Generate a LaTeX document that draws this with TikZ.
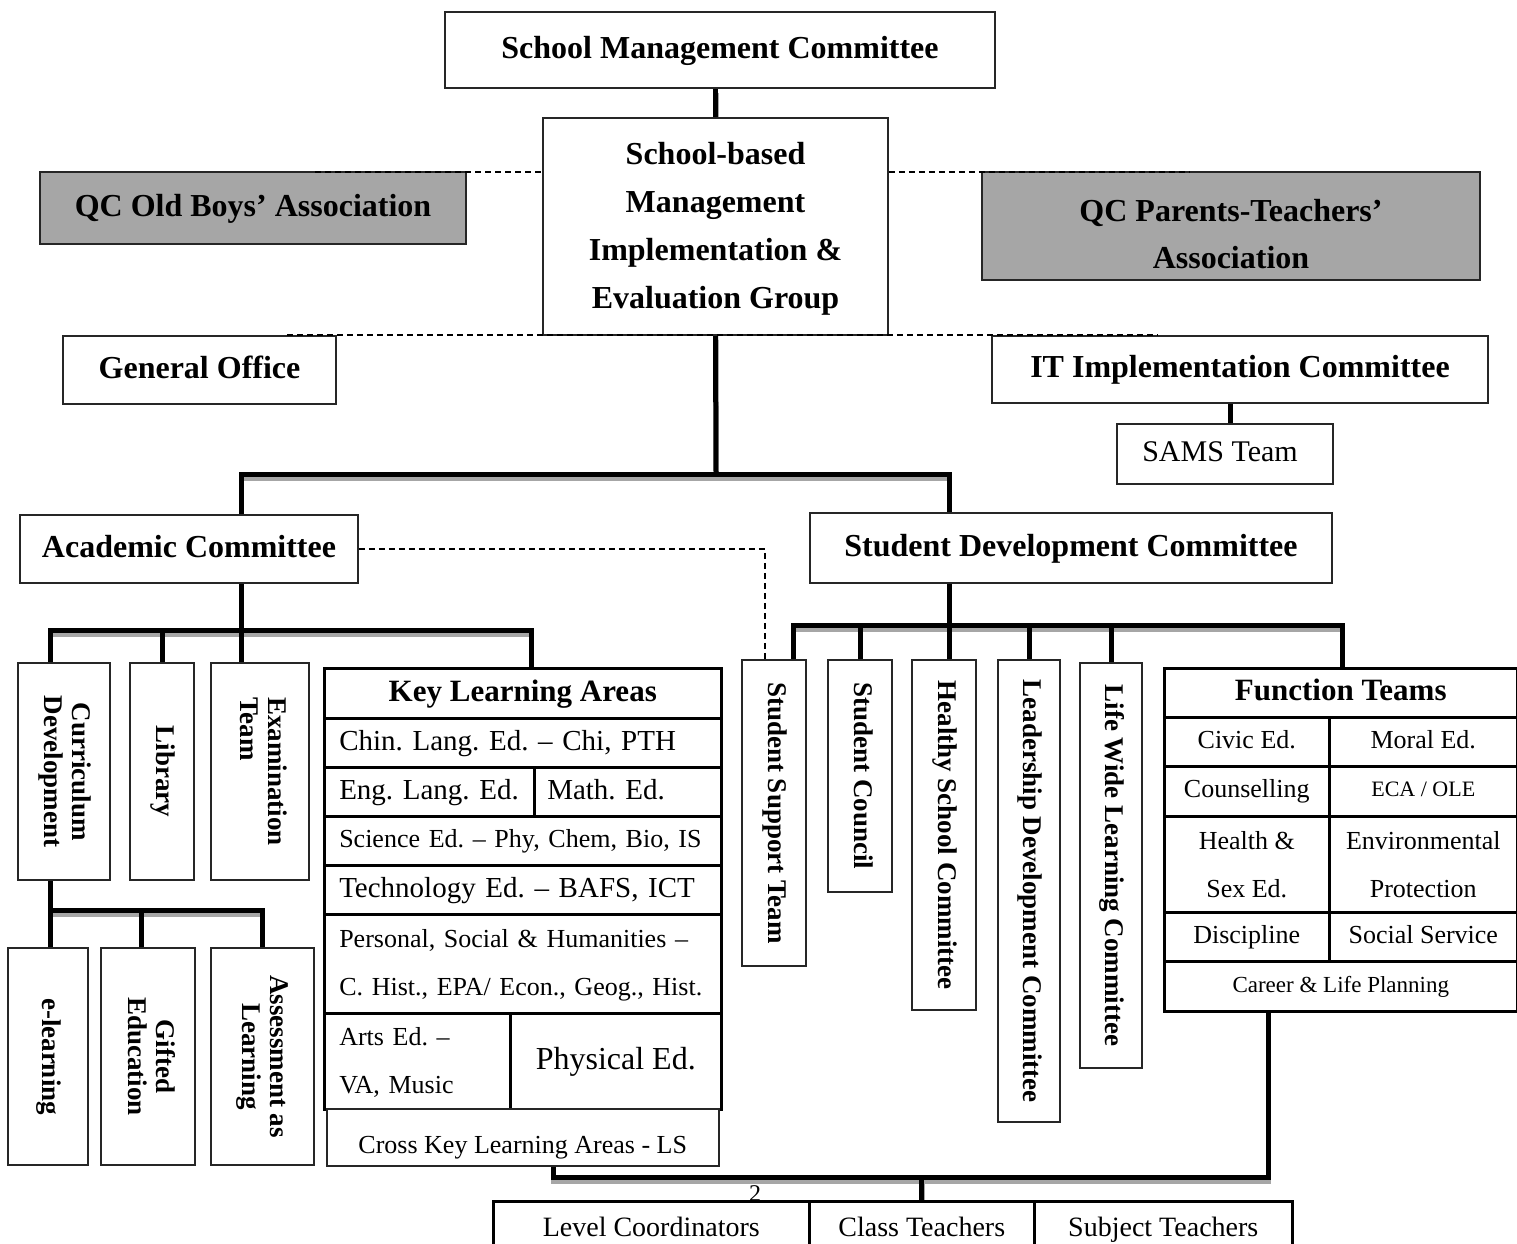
\documentclass[tikz,border=0pt]{standalone}
\usepackage{fontspec}
\setmainfont{Liberation Serif}
\usetikzlibrary{backgrounds}
\definecolor{qcgray}{RGB}{166,166,166}
\newcommand\qcReg[1]{\fontsize{#1bp}{48bp}\selectfont}
\newcommand\qcBold[1]{\fontsize{#1bp}{48bp}\selectfont\bfseries}
\newcommand\qcVert{\fontsize{27bp}{28bp}\selectfont\bfseries}
\newcommand\qcV[2]{\rotatebox{-90}{\begin{tabular}{@{}#1@{}}#2\end{tabular}}}
\begin{document}
\frenchspacing
\begin{tikzpicture}[x=1bp,y=-1bp,
  s32/.style={text height=22.4bp, text depth=6.4bp},
  s31/.style={text height=21.7bp, text depth=6.2bp},
  s30/.style={text height=21bp, text depth=6bp},
  s29/.style={text height=20.3bp, text depth=5.8bp},
  s28/.style={text height=19.6bp, text depth=5.6bp},
  s26/.style={text height=18.2bp, text depth=5.2bp},
  s23/.style={text height=16.1bp, text depth=4.6bp},
  s22/.style={text height=15.4bp, text depth=4.4bp},
  box/.style={draw=black!85, line width=1.5bp, fill=white, inner sep=0pt, align=center, font={\qcBold{32}}},
  gbox/.style={box, fill=qcgray},
  vbox/.style={draw=black!85, line width=1.5bp, fill=white, inner sep=0pt, font=\qcVert},
  cell/.style={draw, line width=2.5bp, fill=white, inner sep=0pt, align=center, anchor=north west, font={\qcReg{26}}},
  lcell/.style={cell, inner xsep=15bp, align=left},
  conn/.style={line width=5bp, preaction={draw=black!35, line width=5bp, transform canvas={xshift=0.5bp,yshift=-4bp}}},
  dsh/.style={line width=1.5bp, dash pattern=on 6bp off 4bp}]
\useasboundingbox (0,0) rectangle (1517,1243);

% top
\node[box, s32, minimum width=550bp, minimum height=76bp] (smc) at (720,50) {School Management Committee};
\node[box, minimum width=345bp, minimum height=217bp] (sbm) at (715.5,226.5) {\rule{0pt}{26bp}School-based\\Management\\Implementation \&\\Evaluation Group};
\node[gbox, s32, minimum width=426bp, minimum height=72bp] (oba) at (253,208) {QC Old Boys’ Association};
\node[gbox, minimum width=498bp, minimum height=108bp, font={\fontsize{32bp}{47bp}\selectfont\bfseries}] (pta) at (1231,226) {\rule{0pt}{38bp}QC Parents-Teachers’\\Association};
\node[box, s32, minimum width=273bp, minimum height=68bp] (go) at (199.5,370) {General Office};
\node[box, s32, minimum width=496bp, minimum height=67bp] (itc) at (1240,369.5) {IT Implementation Committee};
\node[box, s30, minimum width=216bp, minimum height=60bp, font={\qcReg{30}}] (sams) at (1225,454) {\hspace*{-10bp}SAMS Team};
\node[box, s32, minimum width=338bp, minimum height=68bp] (ac) at (189,549) {Academic Committee};
\node[box, s32, minimum width=522bp, minimum height=70bp] (sdc) at (1071,548) {Student Development Committee};

% vertical boxes (academic)
\node[vbox, minimum width=92bp, minimum height=217bp] (cd) at (64,771.5) {\qcV{c}{Curriculum\\Development}};
\node[vbox, minimum width=64bp, minimum height=217bp] (lib) at (162,771.5) {\qcV{c}{Library}};
\node[vbox, minimum width=98bp, minimum height=217bp] (exam) at (260,771.5) {\qcV{l}{Examination\\Team}};
\node[vbox, minimum width=80bp, minimum height=217bp] (el) at (48,1056.5) {\qcV{c}{e-learning}};
\node[vbox, minimum width=94bp, minimum height=217bp] (gift) at (148,1056.5) {\qcV{c}{Gifted\\Education}};
\node[vbox, minimum width=103bp, minimum height=217bp] (ass) at (262.5,1056.5) {\qcV{c}{Assessment as\\Learning}};

% vertical boxes (student development)
\node[vbox, minimum width=64bp, minimum height=306bp] (sst) at (774,813) {\qcV{c}{Student Support Team}};
\node[vbox, minimum width=64bp, minimum height=232bp] (scl) at (860,776) {\qcV{c}{Student Council}};
\node[vbox, minimum width=64bp, minimum height=350bp] (hsc) at (944,835) {\qcV{c}{Healthy School Committee}};
\node[vbox, minimum width=62bp, minimum height=462bp] (ldc) at (1029,891) {\qcV{c}{Leadership Development Committee}};
\node[vbox, minimum width=62bp, minimum height=405bp] (lwl) at (1111,865.5) {\qcV{c}{Life Wide Learning Committee}};

% Key Learning Areas table
\node[cell, s31, minimum width=397bp, minimum height=50bp, font={\qcBold{31}}] (klaT) at (323,667) {Key Learning Areas};
\node[lcell, s29, minimum width=397bp, minimum height=49bp, text width=367bp, font={\qcReg{29}}] (chin) at (323,717) {Chin. Lang. Ed. – Chi, PTH};
\node[lcell, s29, minimum width=210bp, minimum height=49bp, text width=180bp, font={\qcReg{29}}] (eng) at (323,766) {Eng. Lang. Ed.};
\node[lcell, s29, inner xsep=13bp, minimum width=187bp, minimum height=49bp, text width=161bp, font={\qcReg{29}}] (math) at (533,766) {Math. Ed.};
\node[lcell, s26, minimum width=397bp, minimum height=49bp, text width=367bp] (sci) at (323,815) {Science Ed. – Phy, Chem, Bio, IS};
\node[lcell, s29, minimum width=397bp, minimum height=49bp, text width=367bp, font={\qcReg{29}}] (tech) at (323,864) {Technology Ed. – BAFS, ICT};
\node[lcell, minimum width=397bp, minimum height=99bp, text width=367bp] (psh) at (323,913) {\rule{0pt}{22bp}Personal, Social \& Humanities –\\C. Hist., EPA/ Econ., Geog., Hist.};
\node[lcell, minimum width=186bp, minimum height=96bp, text width=156bp] (arts) at (323,1012) {\rule{0pt}{20bp}Arts Ed. –\\VA, Music};
\node[cell, s32, minimum width=211bp, minimum height=96bp, font={\qcReg{32}}] (phys) at (509,1012) {Physical Ed.};
\node[cell, s26, line width=1.5bp, draw=black!85, minimum width=392bp, minimum height=57bp] (cross) at (326,1108) {\raisebox{-10bp}{Cross Key Learning Areas - LS}};

% Function Teams table
\node[cell, s31, minimum width=353bp, minimum height=49bp, font={\qcBold{31}}] (ftT) at (1163,667) {Function Teams};
\node[cell, s26, minimum width=165bp, minimum height=49bp] (civic) at (1163,716) {Civic Ed.};
\node[cell, s26, minimum width=188bp, minimum height=49bp] (moral) at (1328,716) {Moral Ed.};
\node[cell, s26, minimum width=165bp, minimum height=50bp] (couns) at (1163,765) {Counselling};
\node[cell, s22, minimum width=188bp, minimum height=50bp, font={\qcReg{22}}] (eca) at (1328,765) {ECA / OLE};
\node[cell, minimum width=165bp, minimum height=96bp] (health) at (1163,815) {Health \&\\Sex Ed.};
\node[cell, minimum width=188bp, minimum height=96bp] (env) at (1328,815) {Environmental\\Protection};
\node[cell, s26, minimum width=165bp, minimum height=49bp] (disc) at (1163,911) {Discipline};
\node[cell, s26, minimum width=188bp, minimum height=49bp] (soc) at (1328,911) {Social Service};
\node[cell, s23, minimum width=353bp, minimum height=50bp, font={\qcReg{23}}] (career) at (1163,960) {Career \& Life Planning};

% bottom table
\node[cell, s28, minimum width=316bp, minimum height=56bp, font={\qcReg{28}}] (lc) at (492,1200) {Level Coordinators};
\node[cell, s28, minimum width=225bp, minimum height=56bp, font={\qcReg{28}}] (ct) at (808,1200) {Class Teachers};
\node[cell, s28, minimum width=258bp, minimum height=56bp, font={\qcReg{28}}] (st) at (1033,1200) {Subject Teachers};
\node[font={\qcReg{24}}, inner sep=0pt] (pg) at (755,1194) {2};

% connector junctions
\coordinate (barL) at (241,474); \coordinate (barR) at (949,474); \coordinate (barM) at (716,474);
\coordinate (abL) at (50,630); \coordinate (abR) at (531,630); \coordinate (abM) at (241,630);
\coordinate (sbL) at (793,625); \coordinate (sbR) at (1342,625); \coordinate (sbM) at (949,625);
\coordinate (cbL) at (50,910); \coordinate (cbM) at (141,910); \coordinate (cbR) at (262,910);
\coordinate (itx) at (1230,404);
\coordinate (fbR) at (1268,1177); \coordinate (fbL) at (553,1177);
\coordinate (dk) at (765,549);
\coordinate (dl1) at (315,172); \coordinate (dr1) at (1190,172);
\coordinate (dl2) at (287,335); \coordinate (dr2) at (1158,335);

\begin{scope}[on background layer]
\fill[white] (0,0) rectangle (1517,1243);
\draw[conn] (sbm.north |- smc.south) -- (sbm.north);
\draw[conn] (sbm.south) -- (barM);
\draw[conn] (ac.north -| barL) -- (barL) -- (barR) -- (sdc.north -| barR);
\draw[conn] (ac.south -| abM) -- (abM);
\draw[conn] (cd.north -| abL) -- (abL) -- (abR) -- (klaT.north -| abR);
\draw[conn] (abM) -- (exam.north -| abM);
\draw[conn] (lib.north |- abL) -- (lib.north);
\draw[conn] (sdc.south -| sbM) -- (sbM);
\draw[conn] (sst.north -| sbL) -- (sbL) -- (sbR) -- (ftT.north -| sbR);
\draw[conn] (sbM) -- (hsc.north -| sbM);
\draw[conn] (scl.north |- sbL) -- (scl.north);
\draw[conn] (ldc.north |- sbL) -- (ldc.north);
\draw[conn] (lwl.north |- sbL) -- (lwl.north);
\draw[conn] (cd.south -| cbL) -- (cbL);
\draw[conn] (el.north -| cbL) -- (cbL) -- (cbR) -- (ass.north -| cbR);
\draw[conn] (cbM) -- (gift.north -| cbM);
\draw[conn] (itc.south -| itx) -- (sams.north -| itx);
\draw[conn] (career.south -| fbR) -- (fbR) -- (fbL) -- (cross.south -| fbL);
\draw[conn] (ct.north |- fbL) -- (ct.north);
\end{scope}

% dashed links
\draw[dsh] (ac.east) -- (dk) -- (sst.north -| dk);
\draw[dsh] (dl1) -- (sbm.west |- dl1);
\draw[dsh] (sbm.east |- dr1) -- (dr1);
\draw[dsh] (dl2) -- (dr2);
\end{tikzpicture}
\end{document}
